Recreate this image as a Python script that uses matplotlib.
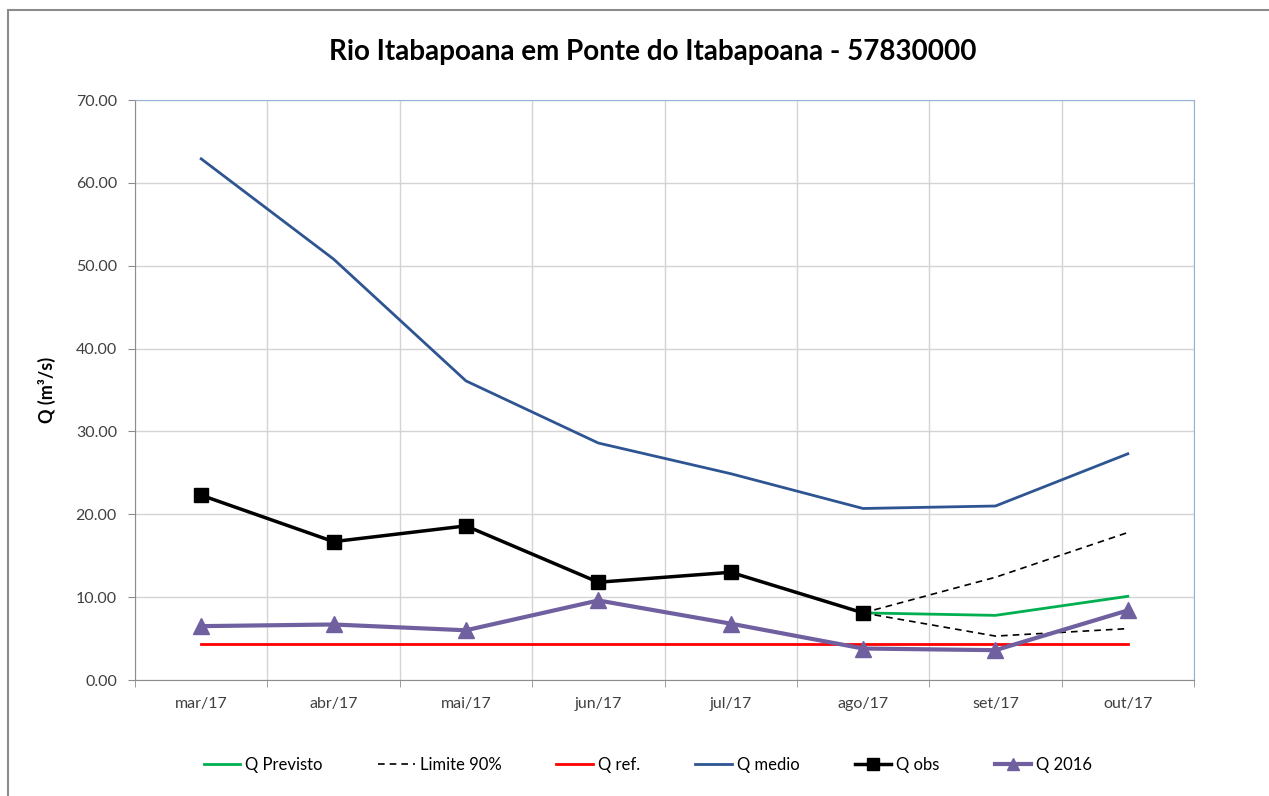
import matplotlib
matplotlib.use('Agg')
import matplotlib.pyplot as plt
import numpy as np
from matplotlib.lines import Line2D
from matplotlib.patches import Rectangle

plt.rcParams['font.family'] = ['Lato', 'DejaVu Sans']

# Data
months = ['mar/17', 'abr/17', 'mai/17', 'jun/17', 'jul/17', 'ago/17', 'set/17', 'out/17']
q_medio = [62.9, 50.8, 36.1, 28.6, 24.9, 20.7, 21.0, 27.3]
q_obs = [22.3, 16.7, 18.6, 11.8, 13.0, 8.1]
q_2016 = [6.5, 6.7, 6.0, 9.6, 6.8, 3.8, 3.6, 8.4]
q_ref = [4.35] * 8
q_previsto = [8.1, 7.8, 10.1]
lim_sup = [8.1, 12.4, 17.8]
lim_inf = [8.1, 5.3, 6.2]

x = np.arange(len(months))
x_fc = x[5:]

fig = plt.figure(figsize=(12.69, 7.96), dpi=100)
ax = fig.add_axes([135 / 1269, 116 / 796, 1059 / 1269, 580 / 796])

# chart border
fig.patches.append(Rectangle((8 / 1269, -0.01), 1.1, 1 - 10 / 796 + 0.01,
                             transform=fig.transFigure, fill=False,
                             edgecolor='#8c8c8c', linewidth=1.5))

ax.plot(x_fc, q_previsto, color='#00b050', linewidth=2, label='Q Previsto', zorder=3)
ax.plot(x_fc, lim_sup, color='black', linewidth=1.2, linestyle=(0, (4, 3)), zorder=3)
ax.plot(x_fc, lim_inf, color='black', linewidth=1.2, linestyle=(0, (4, 3)), zorder=3)
ax.plot(x, q_ref, color='#ff0000', linewidth=2, zorder=3)
ax.plot(x, q_medio, color='#2e5592', linewidth=2, zorder=3)
ax.plot(x[:6], q_obs, color='black', linewidth=2.5, marker='s', markersize=10, zorder=4)
ax.plot(x, q_2016, color='#7160a0', linewidth=3, marker='^', markersize=11, zorder=5)

ax.set_xlim(-0.5, len(months) - 0.5)
ax.set_ylim(0, 70)
ax.set_yticks(np.arange(0, 71, 10))
ax.set_yticklabels([f'{v:.2f}' for v in np.arange(0, 71, 10)], fontsize=11.5, color='#404040')
ax.set_xticks(x)
ax.set_xticklabels(months, fontsize=11.5, color='#404040')
ax.set_xticks(np.arange(-0.5, len(months), 1), minor=True)
ax.tick_params(axis='x', which='major', length=0, pad=12)
ax.tick_params(axis='x', which='minor', length=5, color='#8c8c8c', direction='out')
ax.tick_params(axis='y', length=5, color='#8c8c8c', direction='out', pad=8)

ax.grid(True, axis='y', color='#d4d4d4', linewidth=1)
ax.grid(True, axis='x', which='minor', color='#d4d4d4', linewidth=1)
ax.set_axisbelow(True)

ax.spines['left'].set_color('#8c8c8c')
ax.spines['bottom'].set_color('#8c8c8c')
ax.spines['top'].set_color('#95b3d7')
ax.spines['right'].set_color('#95b3d7')

ax.set_ylabel('Q (m³/s)', fontsize=13, fontweight='bold', labelpad=14)
fig.text(653 / 1269, 1 - 52 / 796, 'Rio Itabapoana em Ponte do Itabapoana - 57830000',
         ha='center', va='center', fontsize=20, fontweight='bold')

handles = [
    Line2D([], [], color='#00b050', linewidth=2),
    Line2D([], [], color='black', linewidth=1.2, linestyle=(0, (4, 3))),
    Line2D([], [], color='#ff0000', linewidth=2),
    Line2D([], [], color='#2e5592', linewidth=2),
    Line2D([], [], color='black', linewidth=2.5, marker='s', markersize=8),
    Line2D([], [], color='#7160a0', linewidth=3, marker='^', markersize=9),
]
labels = ['Q Previsto', 'Limite 90%', 'Q ref.', 'Q medio', 'Q obs', 'Q 2016']
fig.legend(handles, labels, loc='center', bbox_to_anchor=(648 / 1269, 1 - 765 / 796),
           ncol=6, frameon=False, fontsize=12, handlelength=2.2, columnspacing=3.3,
           handletextpad=0.3)

fig.savefig('out.png', dpi=100)
